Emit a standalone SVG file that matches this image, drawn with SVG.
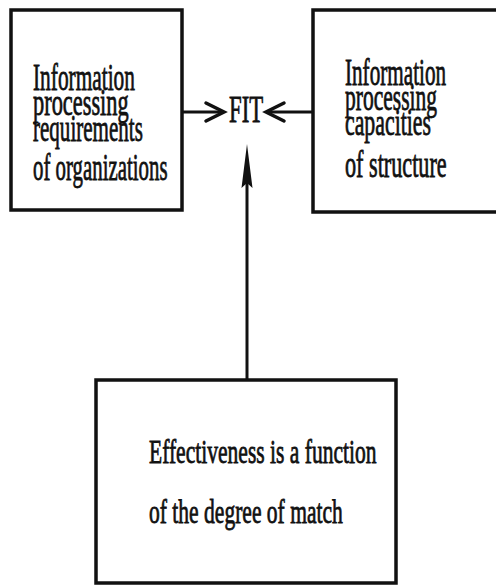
<svg xmlns="http://www.w3.org/2000/svg" width="496" height="586" viewBox="0 0 496 586">
<style>
.box{fill:none;stroke:#111;stroke-width:3.5}
.t{font-family:"Liberation Serif","Times New Roman",serif;fill:#111;stroke:#111;stroke-width:0.8}
.n{font-size:37px}
.b{font-size:34px}
.line{fill:none;stroke:#111;stroke-width:3}
.head{fill:none;stroke:#111;stroke-width:3.5;stroke-linecap:round;stroke-linejoin:miter}
</style>
<rect width="496" height="586" fill="#fff"/>
<g id="requirements">
<rect class="box" x="11" y="10" width="171" height="200"/>
<text class="t n" transform="translate(33,90) scale(0.577,1)">Information</text>
<text class="t n" transform="translate(33,115) scale(0.605,1)">processing</text>
<text class="t n" transform="translate(33,141) scale(0.569,1)">requirements</text>
<text class="t n" transform="translate(33,180) scale(0.564,1)">of organizations</text>
</g>
<g id="capacities">
<path class="box" d="M496,10 H313 V212 H496"/>
<text class="t n" transform="translate(345,85) scale(0.572,1)">Information</text>
<text class="t n" transform="translate(345,110) scale(0.582,1)">processing</text>
<text class="t n" transform="translate(345,135) scale(0.59,1)">capacities</text>
<text class="t n" transform="translate(345,177) scale(0.6,1)">of structure</text>
</g>
<g id="fit">
<text class="t" font-size="38" transform="translate(229,122) scale(0.6,1)">FIT</text>
</g>
<g id="effectiveness">
<rect class="box" x="96" y="380" width="300" height="203"/>
<text class="t b" transform="translate(149,463) scale(0.634,1)">Effectiveness is a function</text>
<text class="t b" transform="translate(149,523) scale(0.634,1)">of the degree of match</text>
</g>
<g id="connectors">
<line class="line" x1="183" y1="112" x2="222" y2="112"/>
<path class="head" d="M206,103 L224,112 L206,121"/>
<line class="line" x1="312" y1="112" x2="267" y2="112"/>
<path class="head" d="M284,103 L266,112 L284,121"/>
<line class="line" x1="247" y1="379" x2="247" y2="170" stroke-width="2.5"/>
<polygon points="247,144 252.5,188 247,183 241.5,188" fill="#111"/>
</g>
</svg>
